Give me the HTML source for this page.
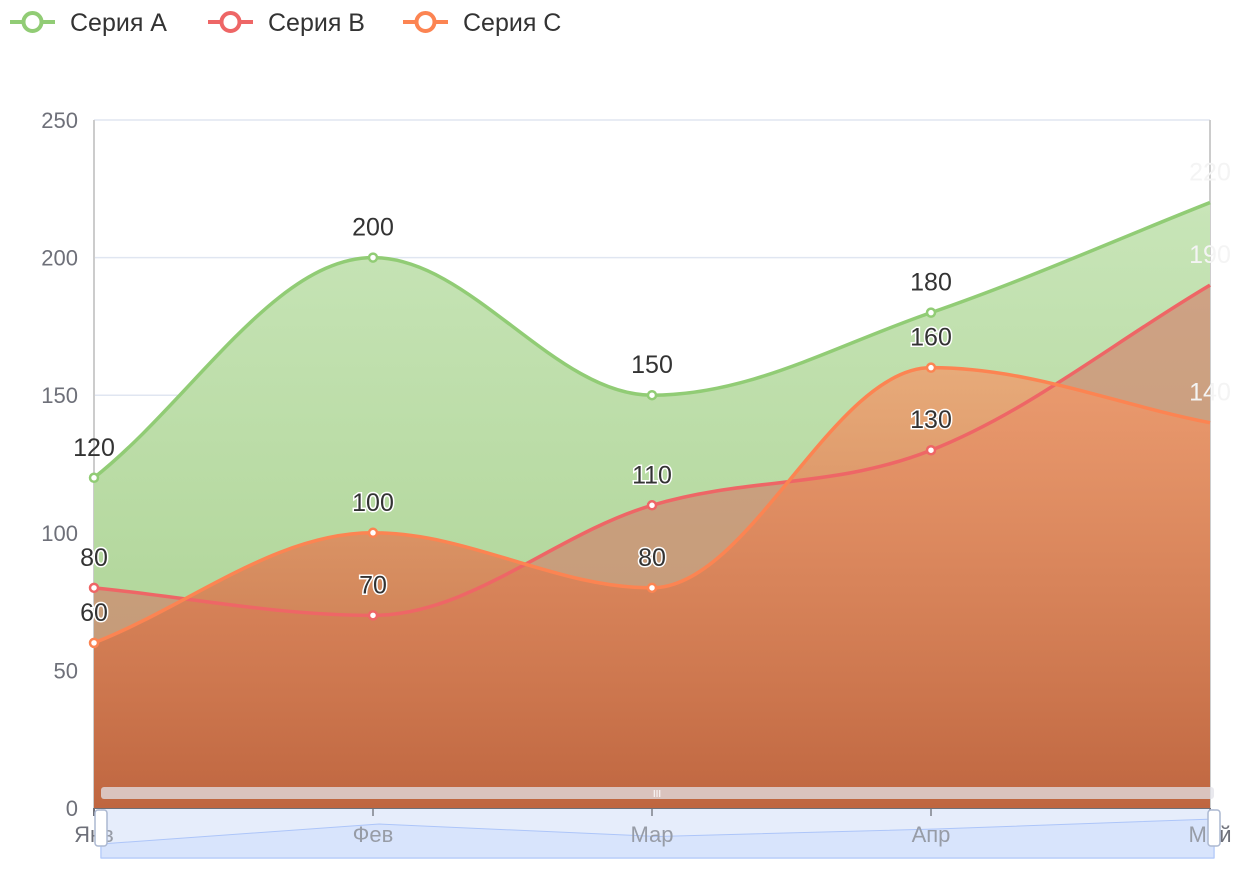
<!DOCTYPE html>
<html><head><meta charset="utf-8">
<style>
html,body{margin:0;padding:0;background:#fff;width:1260px;height:874px;overflow:hidden}
svg text{font-family:"Liberation Sans","DejaVu Sans",sans-serif}
</style></head>
<body>
<svg id="chart" width="1260" height="874" xmlns="http://www.w3.org/2000/svg">
<defs>
<linearGradient id="gA" x1="0" y1="0" x2="0" y2="1"><stop offset="0" stop-color="#c8e5b8"/><stop offset="1" stop-color="#a8d08e"/></linearGradient>
<linearGradient id="gC" gradientUnits="userSpaceOnUse" x1="0" y1="360" x2="0" y2="808"><stop offset="0" stop-color="#f59a6a" stop-opacity="0.75"/><stop offset="1" stop-color="#bf6640" stop-opacity="1"/></linearGradient>
</defs>
<g id="legend"></g>
<g id="grid"></g>
<g id="areas"></g>
<g id="lines"></g>
<g id="labels"></g>
<g id="zoom"></g>
</svg>
<script>
const categories = ["Янв","Фев","Мар","Апр","Май"];
const seriesNames = ["Серия A","Серия B","Серия C"];
const seriesA = [120,200,150,180,220];
const seriesB = [80,70,110,130,190];
const seriesC = [60,100,80,160,140];
const yTicks = [0,50,100,150,200,250];

const NS="http://www.w3.org/2000/svg";
const X0=94,X1=1210,Y0=808,Y1=120,YMAX=250;
const xs=i=>X0+(X1-X0)*i/(categories.length-1);
const ys=v=>Y0-(Y0-Y1)*v/YMAX;
function mk(tag,attrs,parent){const e=document.createElementNS(NS,tag);for(const k in attrs)e.setAttribute(k,attrs[k]);parent.appendChild(e);return e;}
const colors=["#91cc75","#ee6666","#fc8452"];
const data=[seriesA,seriesB,seriesC];

// legend
const lg=document.getElementById('legend');
const legX=[10,208,403];
seriesNames.forEach((n,i)=>{
  const g=mk('g',{},lg);
  
  
  mk('line',{x1:legX[i],y1:22,x2:legX[i]+45,y2:22,stroke:colors[i],'stroke-width':4},g);
  mk('circle',{cx:legX[i]+22.5,cy:22,r:9,fill:'#fff',stroke:colors[i],'stroke-width':4},g);
  const t=mk('text',{x:legX[i]+60,y:31,'font-size':25,fill:'#333'},g);t.textContent=n;
});

// grid
const gr=document.getElementById('grid');
yTicks.forEach(v=>{
  const l=mk('line',{x1:X0,x2:X1,y1:ys(v),y2:ys(v),stroke:'#e0e6f1','stroke-width':1.5},gr);
  
  
  const t=mk('text',{x:78,y:ys(v)+8,'font-size':22,fill:'#6e7079','text-anchor':'end'},gr);
  
  
  t.textContent=v;
});
mk('line',{x1:X1,x2:X1,y1:Y1,y2:Y0,stroke:'#ccc','stroke-width':2},gr);
mk('line',{x1:X0,x2:X0,y1:Y1,y2:Y0,stroke:'#ccc','stroke-width':2},gr);

function pathD(vals){
  const p=vals.map((v,i)=>[xs(i),ys(v)]);
  let d=`M${p[0][0]},${p[0][1]}`;
  const s=0.35;
  for(let i=0;i<p.length-1;i++){
    const a=p[i],b=p[i+1],pr=p[i-1]||a,nx=p[i+2]||b;
    const c1=[a[0]+(b[0]-pr[0])*s/ (pr===a?1:2),a[1]+(b[1]-pr[1])*s/(pr===a?1:2)];
    const c2=[b[0]-(nx[0]-a[0])*s/(nx===b?1:2),b[1]-(nx[1]-a[1])*s/(nx===b?1:2)];
    // flatten at local extrema
    if(i>0&&((a[1]-pr[1])*(b[1]-a[1])<0)) c1[1]=a[1];
    if(i+2<p.length&&((b[1]-a[1])*(nx[1]-b[1])<0)) c2[1]=b[1];
    d+=` C${c1[0]},${c1[1]} ${c2[0]},${c2[1]} ${b[0]},${b[1]}`;
  }
  return d;
}
const fills=["url(#gA)","rgba(215,110,95,0.55)","url(#gC)"];
const ar=document.getElementById('areas'),ln=document.getElementById('lines'),lb=document.getElementById('labels');
data.forEach((vals,si)=>{
  const d=pathD(vals);
  const a=mk('path',{d:d+` L${X1},${Y0} L${X0},${Y0} Z`,fill:fills[si]},ar);
  
  
});
data.forEach((vals,si)=>{
  const d=pathD(vals);
  const l=mk('path',{d:d,fill:'none',stroke:colors[si],'stroke-width':3.5},ln);
  
  
  vals.forEach((v,i)=>{
    if(i===vals.length-1)return;
    const c=mk('circle',{cx:xs(i),cy:ys(v),r:4,fill:'#fff',stroke:colors[si],'stroke-width':2.5},ln);
    
    
  });
  vals.forEach((v,i)=>{
    const last=i===vals.length-1;
    const t=mk('text',{x:xs(i),y:ys(v)-22,'font-size':25,'text-anchor':'middle',fill:last?'#f4f4f4':'#333',
      stroke:si>0&&!last?'#fff':'none','stroke-width':si>0?3:0,'paint-order':'stroke'},lb);
    
    
    t.textContent=v;
  });
});

// x axis
mk('line',{x1:X0,x2:X1,y1:Y0,y2:Y0,stroke:'#6e7079','stroke-width':2},gr);
const zm=document.getElementById('zoom');
mk('rect',{x:101,y:787,width:1113,height:12,rx:3,fill:'rgba(225,225,232,0.75)'},zm);
mk('rect',{x:101,y:809,width:1113,height:49,fill:'#e6edfb'},zm);
const shadowVals=seriesA;
let sp=`M101,858`;
shadowVals.forEach((v,i)=>{sp+=` L${101+1113*i/(shadowVals.length-1)},${849-(v-100)*0.25}`;});
sp+=` L1214,858 Z`;
const sh=mk('path',{d:sp,fill:'#d2dffc',stroke:'#8fb0f7','stroke-width':1},zm);


const ax=mk('g',{},zm);
categories.forEach((c,i)=>{
  mk('line',{x1:xs(i),x2:xs(i),y1:Y0,y2:Y0+8,stroke:'#6e7079','stroke-width':2},ax);
  const t=mk('text',{x:xs(i),y:842,'font-size':22,fill:'#6e7079','text-anchor':'middle'},ax);
  
  
  t.textContent=c;
});
mk('rect',{x:101,y:809,width:1113,height:49,fill:'rgba(230,237,251,0.35)'},zm);
[101,1214].forEach((hx,k)=>{
  const h=mk('rect',{x:hx-6,y:810,width:12,height:36,rx:3,fill:'#fff',stroke:'#acb8d1','stroke-width':1.5},zm);
  
  
});
const mh=mk('text',{x:657,y:797,'font-size':10,fill:'#fff','text-anchor':'middle'},zm);
mh.textContent='III';
</script>
</body></html>
